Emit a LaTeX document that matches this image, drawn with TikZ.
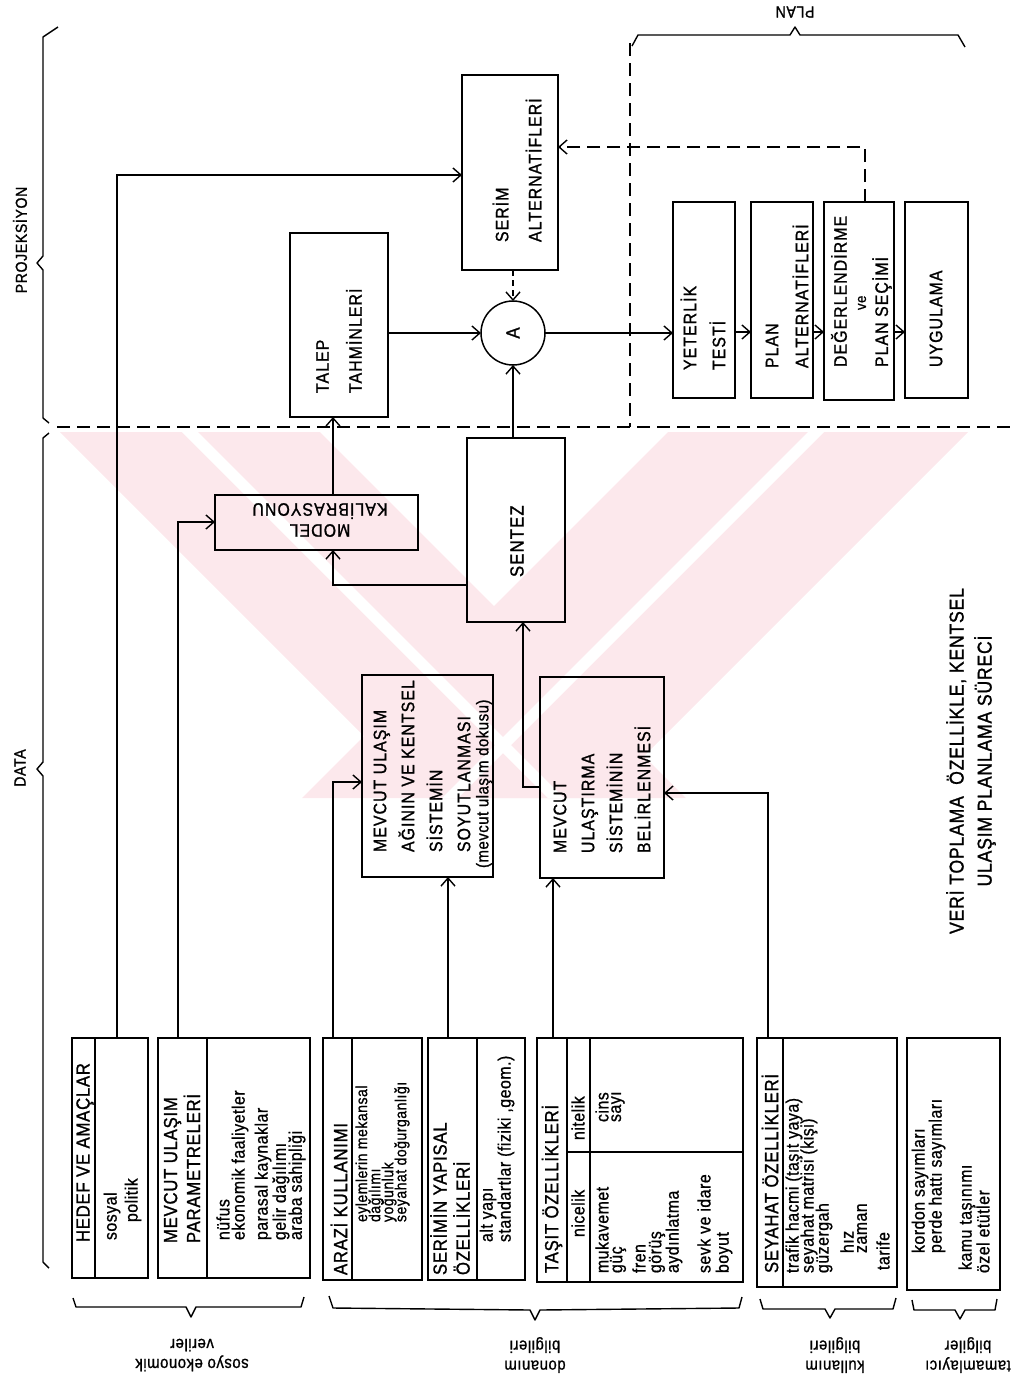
\documentclass[tikz,border=0pt]{standalone}
\usepackage{fontspec}
\setmainfont[FakeBold=0.8]{Liberation Sans}
\newfontfamily\lsf[LetterSpace=6,FakeStretch=0.88,FakeBold=1.2]{Liberation Sans}
\newfontfamily\hsf[LetterSpace=4,FakeStretch=0.88,FakeBold=1.2]{Liberation Sans}
\newfontfamily\csf[LetterSpace=3,FakeStretch=0.88,FakeBold=0.9]{Liberation Sans}
\usetikzlibrary{arrows.meta}
\definecolor{wm}{RGB}{252,232,236}
\newcommand\mkbox[5]{\node[bx,minimum width={(#4)-(#2)},minimum height={(#5)-(#3)}] (#1) at ({((#2)+(#4))/2},{((#3)+(#5))/2}) {};}
\begin{document}
\begin{tikzpicture}[x=1pt,y=-1pt,
  every node/.style={inner sep=0pt,outer sep=0pt},
  bx/.style={draw,line width=1.5pt},
  ln/.style={line width=1.4pt},
  arr/.style={line width=1.4pt,-{Straight Barb[length=8pt,width=14pt]}},
  dsh/.style={line width=1.4pt,dash pattern=on 13pt off 7pt},
  brc/.style={line width=1.4pt,line join=round},
  lb/.style={rotate=90,anchor=west,align=left,font=\lsf\fontsize{18}{30}\selectfont},
  hd/.style={rotate=90,anchor=west,align=left,font=\hsf\fontsize{19}{23}\selectfont},
  ct/.style={rotate=90,anchor=west,font=\csf\fontsize{18}{18}\selectfont},
  cs/.style={rotate=90,anchor=west,font=\csf\fontsize{16}{16}\selectfont},
  bl/.style={rotate=180,align=center,font=\csf\fontsize{17}{20}\selectfont},
]
\useasboundingbox (0,0) rectangle (1010,1387);
% watermark
\begin{scope}
\clip (57,432) rectangle (1010,798);
\fill[wm] (60,432) -- (320,432) -- (686,798) -- (426,798) -- cycle;
\fill[wm] (668,432) -- (968,432) -- (602,798) -- (302,798) -- cycle;
\fill[white] (182,432) -- (198,432) -- (564,798) -- (548,798) -- cycle;
\fill[white] (808,432) -- (824,432) -- (458,798) -- (442,798) -- cycle;
\end{scope}

% region lines and braces
\draw[dsh] (57,427) -- (1010,427);
\draw[dsh] (630,43) -- (630,427);
\draw[brc] (632,46) -- (638,35) -- (790,35) -- (795,27) -- (800,35) -- (958,35) -- (965,47);
\draw[brc] (58,27) -- (43,37) -- (43,256) -- (37,263) -- (43,270) -- (43,418) -- (49,423);
\draw[brc] (49,433) -- (43,438) -- (43,762) -- (37,769) -- (43,776) -- (43,1262) -- (49,1268);
\draw[brc] (73,1298) -- (76,1307) -- (186,1307) -- (191,1317) -- (196,1307) -- (301,1307) -- (304,1297);
\draw[brc] (329,1296) -- (333,1308) -- (530,1310) -- (535,1320) -- (540,1310) -- (739,1308) -- (742,1297);
\draw[brc] (760,1299) -- (763,1309) -- (825,1309) -- (830,1318) -- (835,1309) -- (893,1309) -- (896,1298);
\draw[brc] (912,1300) -- (914,1310) -- (955,1310) -- (960,1319) -- (965,1310) -- (995,1310) -- (997,1299);
\node[rotate=90,font=\hsf\fontsize{16}{16}\selectfont] (lproj) at (20,240) {PROJEKSİYON};
\node[rotate=90,font=\hsf\fontsize{16}{16}\selectfont] (ldata) at (20,768) {DATA};
\node[rotate=180,font=\hsf\fontsize{16}{16}\selectfont] (lplan) at (795,12) {PLAN};
\node[bl] (lb1) at (192,1355) {sosyo ekonomik\\veriler};
\node[bl] (lb2) at (535,1355) {donanım\\bilgileri};
\node[bl] (lb3) at (835,1355) {kullanım\\bilgileri};
\node[bl] (lb4) at (968,1355) {tamamlayıcı\\bilgiler};

% tables
\mkbox{hedef}{72}{1038}{148}{1278}
\mkbox{param}{158}{1038}{310}{1278}
\mkbox{arazi}{323}{1038}{422}{1280}
\mkbox{serimy}{428}{1038}{525}{1280}
\mkbox{tasit}{537}{1038}{743}{1282}
\mkbox{seyahat}{757}{1038}{897}{1287}
\mkbox{kordon}{907}{1038}{1000}{1290}
\draw[ln] (95,1038) -- (95,1278);
\draw[ln] (207,1038) -- (207,1278);
\draw[ln] (352,1038) -- (352,1280);
\draw[ln] (477,1038) -- (477,1280);
\draw[ln] (567,1038) -- (567,1282);
\draw[ln] (590,1038) -- (590,1282);
\draw[ln] (567,1152) -- (743,1152);
\draw[ln] (783,1038) -- (783,1287);

\node[hd] (h1) at (85,1242) {HEDEF VE AMAÇLAR};
\node[ct] (c11) at (112,1240) {sosyal};
\node[ct] (c12) at (133,1222) {politik};
\node[hd] (h2) at (182,1243) {MEVCUT ULAŞIM\\PARAMETRELERİ};
\node[ct] (c21) at (223,1240) {nüfus};
\node[ct] (c22) at (240,1240) {ekonomik faaliyetler};
\node[ct] (c23) at (263,1240) {parasal kaynaklar};
\node[ct] (c24) at (281,1240) {gelir dağılımı};
\node[ct] (c25) at (297,1240) {araba sahipliği};
\node[hd] (h3) at (339,1275) {ARAZİ KULLANIMI};
\node[cs] (c31) at (363,1222) {eylemlerin mekansal};
\node[cs] (c32) at (376,1222) {dağılımı};
\node[cs] (c33) at (389,1222) {yoğunluk};
\node[cs] (c34) at (402,1222) {seyahat doğurganlığı};
\node[hd] (h4) at (450,1275) {SERİMİN YAPISAL\\ÖZELLİKLERİ};
\node[ct] (c41) at (488,1242) {alt yapı};
\node[ct] (c42) at (506,1242) {standartlar (fiziki ,geom.)};
\node[hd] (h5) at (552,1273) {TAŞIT ÖZELLİKLERİ};
\node[ct] (h51) at (578,1237) {nicelik};
\node[ct] (h52) at (578,1140) {nitelik};
\node[ct] (c51) at (602,1122) {cins};
\node[ct] (c52) at (618,1122) {sayı};
\node[ct] (c53) at (602,1273) {mukavemet};
\node[ct] (c54) at (618,1273) {güç};
\node[ct] (c55) at (639,1273) {fren};
\node[ct] (c56) at (657,1273) {görüş};
\node[ct] (c57) at (674,1273) {aydınlatma};
\node[ct] (c58) at (704,1273) {sevk ve idare};
\node[ct] (c59) at (724,1273) {boyut};
\node[hd] (h6) at (770,1273) {SEYAHAT ÖZELLİKLERİ};
\node[ct] (c61) at (794,1273) {trafik hacmi (taşıt yaya)};
\node[ct] (c62) at (809,1273) {seyahat matrisi (kişi)};
\node[ct] (c63) at (824,1273) {güzergah};
\node[ct] (c64) at (847,1253) {hız};
\node[ct] (c65) at (862,1253) {zaman};
\node[ct] (c66) at (883,1270) {tarife};
\node[ct] (c71) at (920,1253) {kordon sayımları};
\node[ct] (c72) at (937,1253) {perde hattı sayımları};
\node[ct] (c73) at (967,1270) {kamu taşınımı};
\node[ct] (c74) at (983,1273) {özel etütler};

% process boxes
\mkbox{serim}{462}{75}{558}{270}
\mkbox{talep}{290}{233}{388}{417}
\mkbox{model}{215}{495}{418}{550}
\mkbox{sentez}{467}{438}{565}{622}
\mkbox{mua}{362}{675}{493}{877}
\mkbox{mus}{540}{677}{664}{878}
\mkbox{yeter}{673}{202}{735}{398}
\mkbox{planalt}{751}{202}{813}{398}
\mkbox{deger}{824}{202}{894}{400}
\mkbox{uyg}{905}{202}{968}{398}
\node[circle,draw,line width=1.5pt,minimum size=64] (A) at (513,333) {\rotatebox{90}{\lsf\fontsize{19}{19}\selectfont A}};

\node[lb,font=\lsf\fontsize{18}{33}\selectfont] (tserim) at (517,242) {SERİM\\ALTERNATİFLERİ};
\node[lb,font=\lsf\fontsize{18}{33}\selectfont] (ttalep) at (339,393) {TALEP\\TAHMİNLERİ};
\node[lb,font=\lsf\fontsize{19}{30}\selectfont] (tsentez) at (517,577) {SENTEZ};
\node[rotate=180,align=center,font=\lsf\fontsize{18}{21}\selectfont] (tmodel) at (320,520) {MODEL\\KALİBRASYONU};
\node[lb,font=\lsf\fontsize{18}{28}\selectfont] (tmua) at (422,852) {MEVCUT ULAŞIM\\AĞININ VE KENTSEL\\SİSTEMİN\\SOYUTLANMASI};
\node[ct,font=\csf\fontsize{17}{17}\selectfont] (tmua2) at (484,868) {(mevcut ulaşım dokusu)};
\node[lb,font=\lsf\fontsize{18}{28}\selectfont] (tmus) at (602,853) {MEVCUT\\ULAŞTIRMA\\SİSTEMİNİN\\BELİRLENMESİ};
\node[lb,font=\lsf\fontsize{18}{29}\selectfont] (tyeter) at (703,370) {YETERLİK\\TESTİ};
\node[lb,font=\lsf\fontsize{18}{30}\selectfont] (tplan) at (787,368) {PLAN\\ALTERNATİFLERİ};
\node[lb] (tdeg1) at (839,367) {DEĞERLENDİRME};
\node[rotate=90,anchor=west,font=\csf\fontsize{15}{15}\selectfont] (tdeg2) at (862,310) {ve};
\node[lb] (tdeg3) at (882,367) {PLAN SEÇİMİ};
\node[lb] (tuyg) at (936,367) {UYGULAMA};

\node[rotate=90,align=center,font=\hsf\fontsize{20}{28}\selectfont] (side) at (971,761) {VERİ TOPLAMA~ ÖZELLİKLE, KENTSEL\\ULAŞIM PLANLAMA SÜRECİ};

% connectors
\coordinate (k1) at (117,175);
\draw[arr] (k1 |- hedef.north) -- (k1) -- (k1 -| serim.west);
\coordinate (k2) at (178,522);
\draw[arr] (k2 |- param.north) -- (k2) -- (k2 -| model.west);
\coordinate (k3) at (333,495);
\draw[arr] (k3 |- model.north) -- (k3 |- talep.south);
\coordinate (k4) at (333,585);
\draw[arr] (k4 -| sentez.west) -- (k4) -- (k4 |- model.south);
\draw[arr] (A.south |- sentez.north) -- (A.south);
\draw[arr,dash pattern=on 6pt off 4pt] (A.north |- serim.south) -- (A.north);
\draw[arr] (A.west -| talep.east) -- (A.west);
\draw[arr] (A.east) -- (A.east -| yeter.west);
\coordinate (k9) at (700,332);
\draw[arr] (k9 -| yeter.east) -- (k9 -| planalt.west);
\draw[arr] (k9 -| planalt.east) -- (k9 -| deger.west);
\draw[arr] (k9 -| deger.east) -- (k9 -| uyg.west);
\coordinate (k10) at (865,147);
\draw[arr,dash pattern=on 13pt off 7pt] (k10 |- deger.north) -- (k10) -- (k10 -| serim.east);
\coordinate (k11) at (523,787);
\draw[arr] (k11 -| mus.west) -- (k11) -- (k11 |- sentez.south);
\coordinate (k12) at (333,782);
\draw[arr] (k12 |- arazi.north) -- (k12) -- (k12 -| mua.west);
\coordinate (k13) at (448,900);
\draw[arr] (k13 |- serimy.north) -- (k13 |- mua.south);
\coordinate (k14) at (553,900);
\draw[arr] (k14 |- tasit.north) -- (k14 |- mus.south);
\coordinate (k15) at (768,793);
\draw[arr] (k15 |- seyahat.north) -- (k15) -- (k15 -| mus.east);
\end{tikzpicture}
\end{document}
